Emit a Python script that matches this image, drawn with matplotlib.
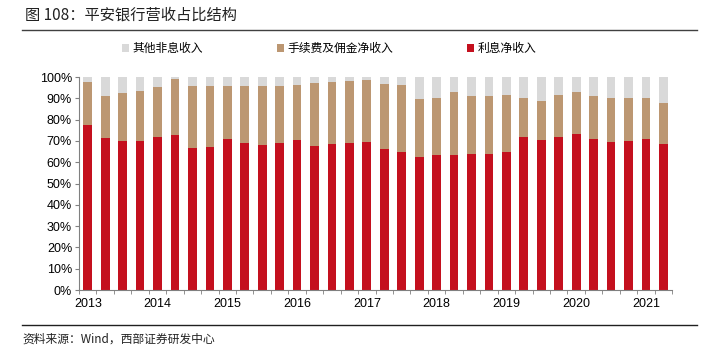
import numpy as np
import matplotlib
matplotlib.use('Agg')
import matplotlib.pyplot as plt

plt.rcParams['font.family'] = ['Liberation Sans', 'Noto Sans CJK SC', 'DejaVu Sans']

# -- data: quarterly shares (%), 2013Q1 .. 2021Q2
years = ['2013', '2014', '2015', '2016', '2017', '2018', '2019', '2020', '2021']
interest = [77.6, 71.3, 70.2, 69.9, 71.9, 72.9, 66.5, 67.4, 70.8, 69.0, 68.3, 69.0,
            70.5, 67.7, 68.8, 69.1, 69.6, 66.1, 65.0, 62.5, 63.6, 63.6, 63.9, 63.9,
            64.7, 71.8, 70.5, 72.1, 73.5, 70.7, 69.7, 70.1, 70.7, 68.7]
fee = [19.9, 19.8, 22.4, 23.4, 23.6, 26.0, 29.4, 28.4, 25.0, 26.8, 27.3, 26.6,
       25.9, 29.3, 28.8, 29.0, 28.8, 30.8, 31.2, 27.3, 26.8, 29.3, 27.0, 27.0,
       26.7, 18.5, 18.5, 19.7, 19.3, 20.4, 20.4, 19.9, 19.4, 19.2]
other = [2.5, 8.9, 7.4, 6.7, 4.5, 1.1, 4.1, 4.2, 4.2, 4.2, 4.4, 4.4,
         3.6, 3.0, 2.4, 1.9, 1.6, 3.1, 3.8, 10.2, 9.6, 7.1, 9.1, 9.1,
         8.6, 9.7, 11.0, 8.2, 7.2, 8.9, 9.9, 10.0, 9.9, 12.1]

c_int = '#C4101E'
c_fee = '#BC9772'
c_oth = '#D9D9D9'

x = np.arange(len(interest))
interest = np.array(interest)
fee = np.array(fee)
other = np.array(other)

fig = plt.figure(figsize=(7.12, 3.52), dpi=100)
ax = fig.add_axes([0.111, 0.176, 0.833, 0.605])

w = 0.5
b1 = ax.bar(x, interest, w, color=c_int, label='利息净收入')
b2 = ax.bar(x, fee, w, bottom=interest, color=c_fee, label='手续费及佣金净收入')
b3 = ax.bar(x, other, w, bottom=interest + fee, color=c_oth, label='其他非息收入')

ax.set_xlim(-0.5, len(x) - 0.5)
ax.set_ylim(0, 100)
ax.set_yticks(np.arange(0, 101, 10))
ax.set_yticklabels([f'{v}%' for v in range(0, 101, 10)], fontsize=9)
ax.set_xticks(np.arange(0, len(x), 4))
ax.set_xticklabels(years, fontsize=9)
ax.set_xticks(np.arange(-0.5, len(x), 1), minor=True)
ax.tick_params(axis='x', which='major', length=0, pad=6)
ax.tick_params(axis='x', which='minor', length=3, color='#808080')
ax.tick_params(axis='y', length=3, color='#808080', pad=2)

for s in ['top', 'right']:
    ax.spines[s].set_visible(False)
for s in ['left', 'bottom']:
    ax.spines[s].set_color('#808080')
    ax.spines[s].set_linewidth(0.8)

leg = fig.legend(handles=[b3, b2, b1], loc='center', bbox_to_anchor=(0.462, 0.862),
                 ncol=3, frameon=False, handlelength=0.65, handleheight=0.65,
                 handletextpad=0.25, columnspacing=6.25,
                 prop={'family': ['Noto Sans CJK SC'], 'size': 8.5})

fig.text(0.035, 0.957, '图 108：平安银行营收占比结构', fontsize=11, va='center',
         family=['Noto Sans CJK SC', 'DejaVu Sans'], color='#222222')
fig.add_artist(plt.Line2D([0.031, 0.979], [0.915, 0.915], color='#404040', lw=1.0))
fig.add_artist(plt.Line2D([0.031, 0.979], [0.077, 0.077], color='#202020', lw=1.0))
fig.text(0.032, 0.037, '资料来源：Wind，西部证券研发中心', fontsize=8.5, va='center',
         family=['Noto Sans CJK SC', 'DejaVu Sans'], color='#222222')

plt.savefig('out.png', dpi=100)
